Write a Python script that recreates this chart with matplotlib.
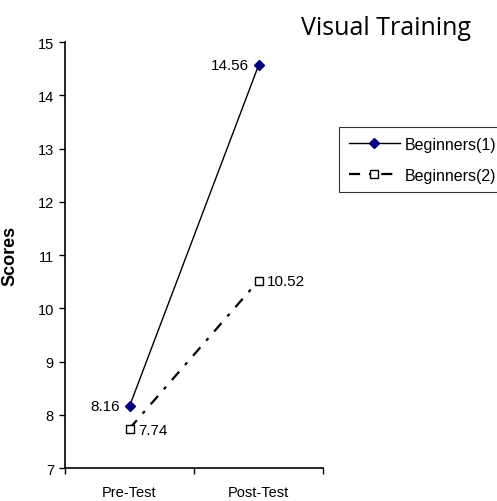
import matplotlib.pyplot as plt

tests = ['Pre-Test', 'Post-Test']
beginners1 = [8.16, 14.56]
beginners2 = [7.74, 10.52]
yticks = [7, 8, 9, 10, 11, 12, 13, 14, 15]

plt.rcParams['font.family'] = ['Liberation Sans', 'DejaVu Sans']

fig = plt.figure(figsize=(4.97, 5.02), dpi=100)
ax = fig.add_axes([0.1308, 0.0657, 0.5192, 0.8486])

x = list(range(len(tests)))
ax.plot(x, beginners1, color='black', linewidth=1.0, marker='D', markersize=5,
        markerfacecolor='#000080', markeredgecolor='#000080', label='Beginners(1)')
ax.plot(x, beginners2, color='black', linewidth=1.6, linestyle=(0, (5, 4, 1.5, 4)),
        marker='s', markersize=6, markerfacecolor='white', markeredgecolor='black',
        markeredgewidth=1.0, label='Beginners(2)')

# value labels
lbl = dict(textcoords='offset points', va='center', fontsize=11)
ax.annotate(f'{beginners1[0]:.2f}', (x[0], beginners1[0]), xytext=(-7, 0), ha='right', **lbl)
ax.annotate(f'{beginners1[1]:.2f}', (x[1], beginners1[1]), xytext=(-7, 0), ha='right', **lbl)
ax.annotate(f'{beginners2[0]:.2f}', (x[0], beginners2[0]), xytext=(6, -1), ha='left', **lbl)
ax.annotate(f'{beginners2[1]:.2f}', (x[1], beginners2[1]), xytext=(6, 0), ha='left', **lbl)

ax.set_xlim(-0.5, 1.5)
ax.set_ylim(7, 15)
ax.set_yticks(yticks)
ax.tick_params(axis='y', direction='out', length=4, width=1, labelsize=10.5, pad=4)
ax.set_xticks(x)
ax.set_xticklabels(tests, fontsize=10.5)
ax.tick_params(axis='x', which='major', length=0, pad=12)
ax.set_xticks([-0.5, 0.5, 1.5], minor=True)
ax.tick_params(axis='x', which='minor', direction='out', length=4, width=1)

for side in ['top', 'right']:
    ax.spines[side].set_visible(False)
ax.spines['left'].set_linewidth(1.2)
ax.spines['bottom'].set_linewidth(1.2)

ax.set_ylabel('Scores', fontsize=13, fontweight='bold')
ax.yaxis.set_label_coords(-0.182, 0.5)

fig.text(0.777, 0.944, 'Visual Training', fontsize=18, family='Open Sans',
         ha='center', va='center')

leg = ax.legend(loc='upper left', bbox_to_anchor=(1.062, 0.80), frameon=True,
                fancybox=False, fontsize=11.5, handlelength=3.2, handletextpad=0.3,
                borderpad=0.6, labelspacing=1.0, borderaxespad=0)
leg.get_frame().set_edgecolor('black')
leg.get_frame().set_linewidth(0.8)

fig.savefig('out.png', dpi=100)
